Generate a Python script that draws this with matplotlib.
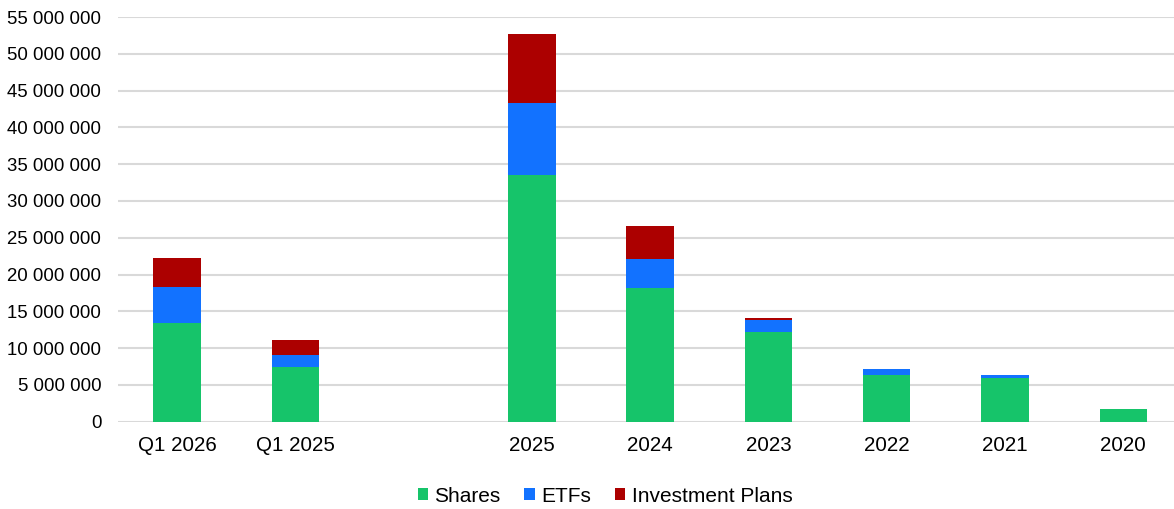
import matplotlib.pyplot as plt
from matplotlib.ticker import FuncFormatter
import numpy as np

# Categories (blank slot separates the quarterly and yearly groups)
categories = ["Q1 2026", "Q1 2025", "", "2025", "2024", "2023", "2022", "2021", "2020"]
shares = [13.37e6, 7.39e6, np.nan, 33.5e6, 18.17e6, 12.19e6, 6.35e6, 5.9e6, 1.70e6]
etfs = [4.98e6, 1.63e6, np.nan, 9.8e6, 3.9e6, 1.59e6, 0.77e6, 0.40e6, 0.05e6]
plans = [3.85e6, 2.08e6, np.nan, 9.4e6, 4.48e6, 0.31e6, 0.0, 0.0, 0.0]

colors = {"Shares": "#16C46A", "ETFs": "#1272FF", "Investment Plans": "#AC0000"}

plt.rcParams['font.family'] = ['Liberation Sans', 'DejaVu Sans']

fig = plt.figure(figsize=(11.74, 5.09), dpi=100)
ax = fig.add_axes([118 / 1174, 1 - 421.7 / 509, 1056 / 1174, (421.7 - 17) / 509])

x = np.arange(len(categories))
s = np.array(shares)
e = np.array(etfs)
p = np.array(plans)
width = 0.4

ax.bar(x, s, width, color=colors["Shares"], label="Shares", zorder=3)
ax.bar(x, e, width, bottom=s, color=colors["ETFs"], label="ETFs", zorder=3)
ax.bar(x, p, width, bottom=s + e, color=colors["Investment Plans"], label="Investment Plans", zorder=3)

ax.set_ylim(0, 55e6)
ax.set_yticks(np.arange(0, 55e6 + 1, 5e6))
ax.yaxis.set_major_formatter(FuncFormatter(lambda v, _: f"{int(v):,}".replace(",", " ")))
ax.set_xlim(-0.5, 8.43)
ax.set_xticks(x)
ax.set_xticklabels(categories)

ax.grid(axis='y', color='#D9D9D9', linewidth=1.5, zorder=0)
ax.tick_params(axis='both', length=0, colors='#000000')
ax.tick_params(axis='y', pad=12, labelsize=13.4)
ax.tick_params(axis='x', pad=10, labelsize=14.8)
for side in ['top', 'right', 'left', 'bottom']:
    ax.spines[side].set_visible(False)

fig.legend(loc='center', bbox_to_anchor=(605 / 1174, 1 - 496 / 509), ncol=3,
           frameon=False, fontsize=15, handlelength=0.5, handleheight=0.5,
           handletextpad=0.3, columnspacing=1.15)

fig.savefig("out.png", dpi=100, facecolor='white')
